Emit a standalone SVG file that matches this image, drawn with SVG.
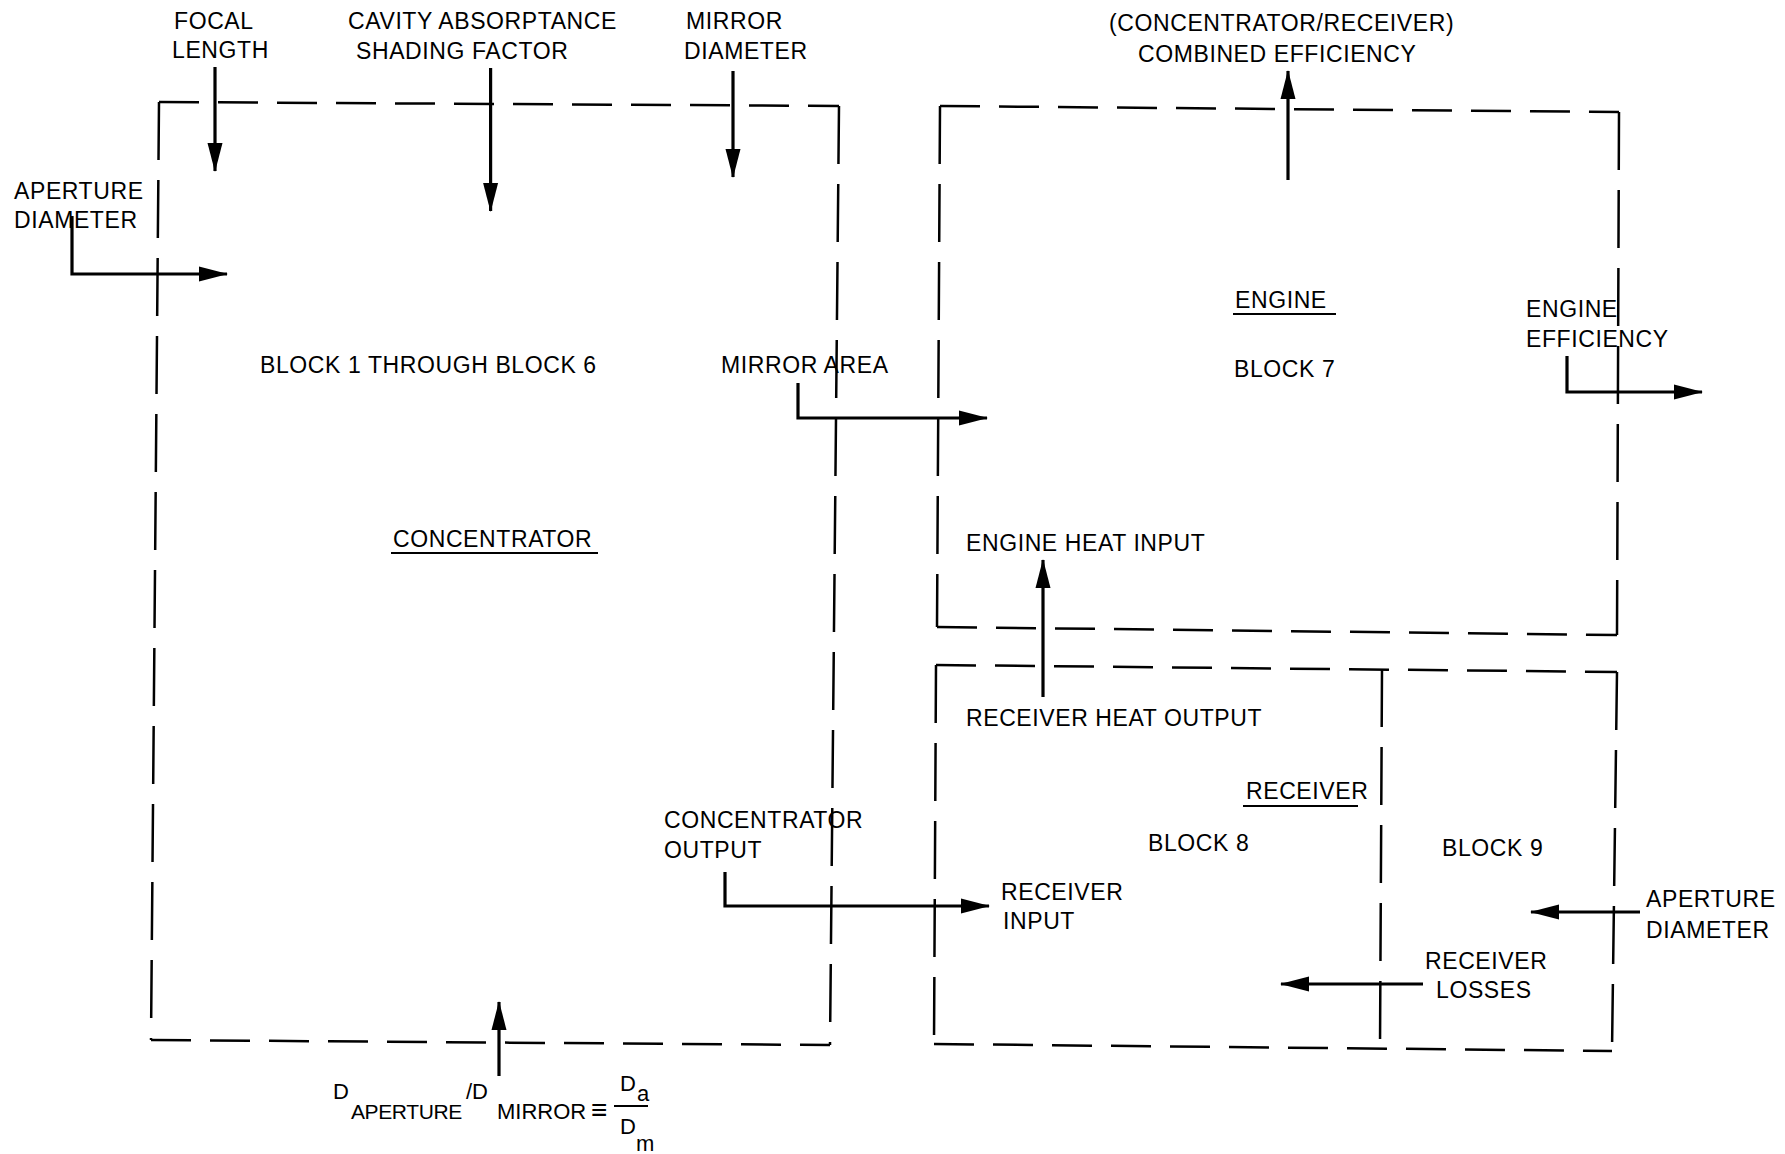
<svg xmlns="http://www.w3.org/2000/svg" width="1785" height="1154" viewBox="0 0 1785 1154">
<defs>
<style>
.h{stroke:#000;stroke-width:2.5;fill:none;stroke-dasharray:40 19}
.v{stroke:#000;stroke-width:2.5;fill:none;stroke-dasharray:58 20}
.a{stroke:#000;stroke-width:3.2;fill:none;marker-end:url(#ah)}
.u{stroke:#000;stroke-width:2}
text{font-family:"Liberation Sans",Arial,sans-serif;font-size:23px;letter-spacing:0.6px;fill:#000}
text.f{font-size:21px;letter-spacing:-0.4px}
text.g{font-size:22px;letter-spacing:0}
text.s{font-size:22px;letter-spacing:0}
text.eq{font-size:28px;letter-spacing:0}
</style>
<marker id="ah" markerUnits="userSpaceOnUse" markerWidth="30" markerHeight="16" refX="28" refY="8" orient="auto"><path d="M0,0.5 L29,8 L0,15.5 Z" fill="#000"/></marker>
</defs>
<rect width="1785" height="1154" fill="#fff"/>
<g id="concentrator">
<path class="h" d="M159,102 L839,106"/>
<path class="v" d="M839,106 L830,1045"/>
<path class="h" d="M151,1040 L830,1045"/>
<path class="v" d="M159,102 L151,1040"/>
<text x="260" y="373">BLOCK 1 THROUGH BLOCK 6</text>
<text x="393" y="547">CONCENTRATOR</text>
<line class="u" x1="391" y1="553" x2="598" y2="553"/>
</g>
<g id="engine">
<path class="h" d="M940,106 L1619,112"/>
<path class="v" d="M1619,112 L1617,635"/>
<path class="h" d="M937,627 L1617,635"/>
<path class="v" d="M940,106 L937,627"/>
<text x="1235" y="308">ENGINE</text>
<line class="u" x1="1233" y1="314" x2="1336" y2="314"/>
<text x="1234" y="377">BLOCK 7</text>
</g>
<g id="receiver">
<path class="h" d="M936,665 L1617,672"/>
<path class="v" d="M1617,672 L1612,1051"/>
<path class="h" d="M934,1044 L1612,1051"/>
<path class="v" d="M936,665 L934,1044"/>
<path class="v" d="M1382,669 L1380,1048"/>
<text x="1246" y="799">RECEIVER</text>
<line class="u" x1="1243" y1="806" x2="1358" y2="806"/>
<text x="1148" y="851">BLOCK 8</text>
<text x="1442" y="856">BLOCK 9</text>
</g>
<g id="connectors">
<path class="a" d="M215,67 V171"/>
<path class="a" d="M490.6,68 V211"/>
<path class="a" d="M733,71 V177"/>
<path class="a" d="M72,216 V274 H227"/>
<path class="a" d="M1288,180 V71"/>
<path class="a" d="M1567,356 V392 H1702"/>
<path class="a" d="M798,383 V418 H987"/>
<path class="a" d="M1043,697 V560"/>
<path class="a" d="M725,872 V906 H989"/>
<path class="a" d="M1640,912 H1531"/>
<path class="a" d="M1423,984 H1281"/>
<path class="a" d="M499,1076 V1002"/>
</g>
<g id="labels">
<text x="174" y="29">FOCAL</text>
<text x="172" y="58">LENGTH</text>
<text x="348" y="29">CAVITY ABSORPTANCE</text>
<text x="356" y="59">SHADING FACTOR</text>
<text x="686" y="29">MIRROR</text>
<text x="684" y="59">DIAMETER</text>
<text x="14" y="199">APERTURE</text>
<text x="14" y="228">DIAMETER</text>
<text x="721" y="373">MIRROR AREA</text>
<text x="1109" y="31">(CONCENTRATOR/RECEIVER)</text>
<text x="1138" y="62">COMBINED EFFICIENCY</text>
<text x="1526" y="317">ENGINE</text>
<text x="1526" y="347">EFFICIENCY</text>
<text x="966" y="551">ENGINE HEAT INPUT</text>
<text x="966" y="726">RECEIVER HEAT OUTPUT</text>
<text x="664" y="828">CONCENTRATOR</text>
<text x="664" y="858">OUTPUT</text>
<text x="1001" y="900">RECEIVER</text>
<text x="1003" y="929">INPUT</text>
<text x="1646" y="907">APERTURE</text>
<text x="1646" y="938">DIAMETER</text>
<text x="1425" y="969">RECEIVER</text>
<text x="1436" y="998">LOSSES</text>
</g>
<g id="formula">
<text class="s" x="333" y="1099">D</text>
<text class="f" x="351" y="1119">APERTURE</text>
<text class="s" x="466" y="1099">/D</text>
<text class="g" x="497" y="1119">MIRROR</text>
<text class="eq" x="591" y="1119">≡</text>
<line class="u" x1="614" y1="1106" x2="648" y2="1106"/>
<text class="s" x="620" y="1091">D</text>
<text class="s" x="637" y="1101">a</text>
<text class="s" x="620" y="1134">D</text>
<text class="s" x="636" y="1151">m</text>
</g>
</svg>
